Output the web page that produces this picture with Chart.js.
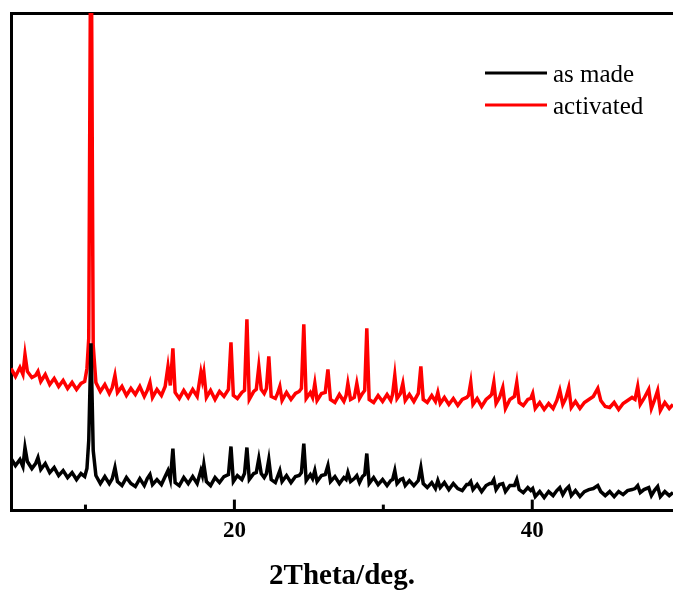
<!DOCTYPE html>
<html>
<head>
<meta charset="utf-8">
<script src="https://cdn.jsdelivr.net/npm/chart.js@4.4.0/dist/chart.umd.min.js"></script>
<style>
  html, body { margin: 0; padding: 0; background: #fff; overflow: hidden; }
  #xrd { display: block; }
</style>
</head>
<body>
<canvas id="xrd" width="673" height="594"></canvas>
<script>
// 2theta positions (deg) shared by both patterns
const twoTheta = [
  5.0, 5.3, 5.6, 5.8, 5.94, 6.1, 6.4, 6.65, 6.81, 7.0, 7.3, 7.6, 7.9, 8.2, 8.5, 8.8, 9.1, 9.4, 9.7, 9.95,
  10.1, 10.22, 10.37, 10.52, 10.7, 11.0, 11.3, 11.6, 11.8, 11.98, 12.15, 12.45, 12.75, 13.05, 13.35, 13.65, 13.95, 14.15, 14.33, 14.5,
  14.8, 15.1, 15.35, 15.54, 15.7, 15.87, 16.02, 16.3, 16.6, 16.9, 17.2, 17.5, 17.75, 17.85, 17.95, 18.12, 18.4, 18.7, 19.0, 19.3,
  19.6, 19.77, 19.93, 20.2, 20.5, 20.68, 20.84, 21.0, 21.3, 21.47, 21.64, 21.8, 22.0, 22.15, 22.31, 22.47, 22.75, 22.9, 23.05, 23.2,
  23.5, 23.8, 24.1, 24.35, 24.5, 24.66, 24.82, 25.1, 25.25, 25.4, 25.55, 25.85, 26.1, 26.28, 26.45, 26.75, 27.05, 27.35, 27.5, 27.62,
  27.8, 28.05, 28.22, 28.4, 28.6, 28.75, 28.89, 29.05, 29.35, 29.65, 29.95, 30.25, 30.5, 30.62, 30.77, 30.92, 31.15, 31.31, 31.47, 31.75,
  32.05, 32.35, 32.52, 32.68, 32.95, 33.25, 33.5, 33.66, 33.82, 34.1, 34.4, 34.7, 35.0, 35.3, 35.6, 35.72, 35.87, 36.02, 36.3, 36.6,
  36.9, 37.15, 37.27, 37.42, 37.57, 37.8, 38.02, 38.2, 38.5, 38.8, 38.96, 39.12, 39.4, 39.7, 39.9, 40.03, 40.2, 40.5, 40.8, 41.1,
  41.4, 41.65, 41.85, 42.05, 42.25, 42.45, 42.62, 42.9, 43.2, 43.5, 43.8, 44.1, 44.4, 44.6, 44.9, 45.2, 45.5, 45.8, 46.1, 46.4,
  46.7, 46.9, 47.08, 47.25, 47.5, 47.82, 48.0, 48.2, 48.42, 48.6, 48.9, 49.2, 49.45
];

const asMade = [
  52, 45, 51, 44, 63, 49, 42, 47, 53, 41, 47, 38, 43, 35, 40, 33, 38, 31, 37, 34,
  42, 70, 167, 60, 35, 27, 34, 27, 32, 43, 29, 25, 33, 27, 24, 32, 25, 32, 36, 26,
  31, 26, 34, 40, 31, 62, 28, 25, 33, 27, 34, 27, 40, 35, 46, 29, 25, 33, 28, 34,
  36, 64, 29, 35, 31, 37, 63, 31, 37, 38, 52, 37, 33, 37, 51, 31, 28, 34, 40, 29,
  35, 28, 34, 35, 38, 67, 30, 36, 32, 40, 29, 35, 36, 45, 29, 34, 27, 33, 31, 38,
  29, 32, 35, 28, 34, 36, 57, 27, 33, 26, 31, 25, 30, 31, 40, 27, 31, 32, 25, 30,
  25, 30, 43, 27, 23, 28, 22, 30, 23, 28, 21, 27, 22, 20, 26, 26, 29, 21, 26, 19,
  25, 27, 27, 31, 21, 26, 27, 19, 25, 25, 31, 21, 18, 23, 20, 22, 14, 19, 13, 19,
  15, 20, 23, 16, 21, 24, 15, 20, 14, 19, 21, 22, 25, 19, 15, 19, 14, 19, 16, 20,
  21, 22, 25, 18, 21, 23, 15, 20, 24, 14, 19, 15, 18
];

const activated = [
  142, 134, 143, 136, 156, 139, 133, 135, 139, 129, 136, 126, 132, 124, 130, 122, 128, 121, 127, 129,
  142, 172, 640, 165, 128, 119, 126, 117, 123, 135, 118, 124, 115, 122, 116, 124, 114, 120, 128, 113,
  121, 115, 124, 144, 125, 162, 118, 112, 120, 113, 121, 114, 138, 130, 138, 113, 120, 111, 119, 114,
  121, 168, 115, 112, 118, 120, 191, 111, 119, 121, 144, 121, 117, 122, 154, 114, 112, 117, 124, 110,
  118, 111, 117, 119, 122, 186, 112, 118, 113, 127, 110, 117, 118, 141, 111, 108, 116, 109, 115, 127,
  111, 113, 127, 112, 117, 120, 182, 111, 108, 115, 109, 116, 110, 116, 135, 112, 117, 127, 110, 116,
  109, 117, 144, 111, 108, 115, 109, 118, 107, 113, 106, 112, 105, 111, 113, 115, 128, 106, 112, 104,
  111, 114, 116, 128, 107, 113, 123, 102, 111, 114, 128, 108, 105, 111, 112, 117, 102, 108, 101, 107,
  102, 110, 120, 106, 112, 123, 103, 109, 102, 108, 111, 114, 122, 110, 104, 103, 108, 101, 107, 110,
  113, 111, 124, 106, 112, 121, 102, 110, 120, 100, 108, 102, 106
];

const seriesLabels = ['as made', 'activated'];
const seriesColors = ['#000000', '#ff0000'];
const labeledTicks = [20, 40];

const serif = '"Liberation Serif", "Times New Roman", serif';

// short inward tick marks on the bottom axis
const innerTicks = {
  id: 'innerTicks',
  afterDatasetsDraw(chart) {
    const {ctx, chartArea, scales: {x}} = chart;
    ctx.save();
    ctx.strokeStyle = '#000';
    ctx.lineWidth = 3;
    x.ticks.forEach(t => {
      const px = x.getPixelForValue(t.value);
      const len = labeledTicks.includes(t.value) ? 11 : 6;
      ctx.beginPath();
      ctx.moveTo(px, chartArea.bottom);
      ctx.lineTo(px, chartArea.bottom - len);
      ctx.stroke();
    });
    ctx.restore();
  }
};

// legend stacked in the upper right, line sample then label
const cornerLegend = {
  id: 'cornerLegend',
  afterDraw(chart) {
    const {ctx} = chart;
    ctx.save();
    ctx.font = '25px ' + serif;
    ctx.textBaseline = 'alphabetic';
    chart.data.datasets.forEach((ds, i) => {
      const y = 73 + i * 32;
      ctx.strokeStyle = ds.borderColor;
      ctx.lineWidth = 3;
      ctx.beginPath();
      ctx.moveTo(485, y);
      ctx.lineTo(547, y);
      ctx.stroke();
      ctx.fillStyle = '#000';
      ctx.fillText(ds.label, 553, y + 9);
    });
    ctx.restore();
  }
};

const frameAxis = {
  grid: { display: true, drawOnChartArea: false, drawTicks: false },
  border: { display: true, color: '#000', width: 3 }
};

new Chart(document.getElementById('xrd'), {
  type: 'line',
  data: {
    datasets: [
      {
        label: seriesLabels[0],
        data: twoTheta.map((t, i) => ({ x: t, y: asMade[i] })),
        borderColor: seriesColors[0],
        backgroundColor: seriesColors[0],
        borderWidth: 3.5,
        pointRadius: 0,
        tension: 0
      },
      {
        label: seriesLabels[1],
        data: twoTheta.map((t, i) => ({ x: t, y: activated[i] })),
        borderColor: seriesColors[1],
        backgroundColor: seriesColors[1],
        borderWidth: 3.5,
        pointRadius: 0,
        tension: 0
      }
    ]
  },
  options: {
    responsive: false,
    animation: false,
    layout: { padding: { left: 11, top: 13, right: 0, bottom: 0 } },
    plugins: {
      legend: { display: false },
      tooltip: { enabled: false }
    },
    scales: {
      x: {
        type: 'linear',
        position: 'bottom',
        min: 5,
        max: 49.45,
        ...frameAxis,
        ticks: {
          stepSize: 10,
          includeBounds: false,
          padding: 7,
          color: '#000',
          font: { family: serif, size: 23, weight: 'bold' },
          maxRotation: 0,
          callback: v => labeledTicks.includes(v) ? String(v) : ''
        },
        title: {
          display: true,
          text: '2Theta/deg.',
          color: '#000',
          font: { family: serif, size: 29, weight: 'bold' },
          padding: { top: 7, bottom: 0 }
        }
      },
      xTop: {
        type: 'linear',
        position: 'top',
        min: 5,
        max: 49.45,
        ...frameAxis,
        ticks: { display: false }
      },
      y: {
        position: 'left',
        min: 0,
        max: 497,
        ...frameAxis,
        ticks: { display: false }
      }
    }
  },
  plugins: [innerTicks, cornerLegend]
});
</script>
</body>
</html>
